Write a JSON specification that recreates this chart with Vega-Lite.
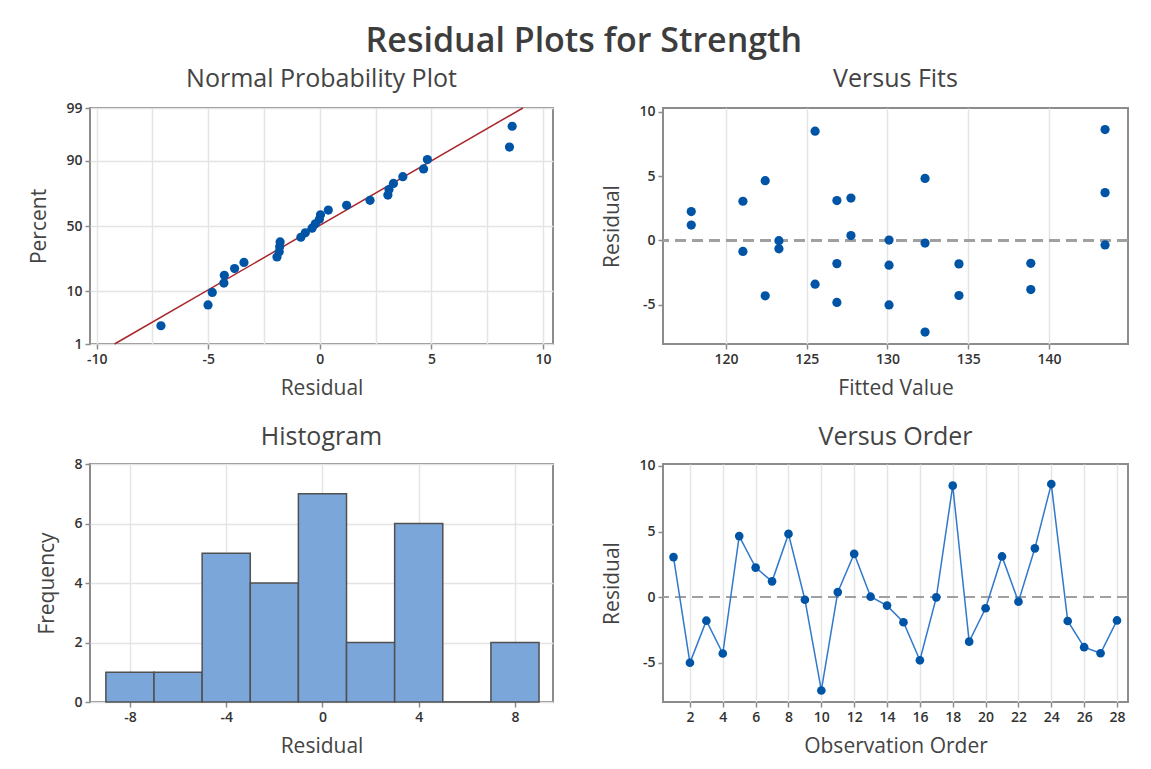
{
  "$schema": "https://vega.github.io/schema/vega-lite/v6.json",
  "background": "white",
  "padding": {"left": 27, "top": 24, "right": 10, "bottom": 10},
  "title": {"text": "Residual Plots for Strength", "fontSize": 34, "font": "Open Sans", "fontWeight": 600, "color": "#3d3d3d", "anchor": "middle", "offset": 7, "dx": 5},
  "datasets": {
    "obs": [
      {"order": 1, "fit": 121.05, "residual": 3.05},
      {"order": 2, "fit": 130.10, "residual": -5.01},
      {"order": 3, "fit": 126.87, "residual": -1.80},
      {"order": 4, "fit": 122.43, "residual": -4.30},
      {"order": 5, "fit": 122.43, "residual": 4.65},
      {"order": 6, "fit": 117.85, "residual": 2.25},
      {"order": 7, "fit": 117.85, "residual": 1.20},
      {"order": 8, "fit": 132.33, "residual": 4.82},
      {"order": 9, "fit": 132.33, "residual": -0.20},
      {"order": 10, "fit": 132.33, "residual": -7.12},
      {"order": 11, "fit": 127.74, "residual": 0.38},
      {"order": 12, "fit": 127.74, "residual": 3.30},
      {"order": 13, "fit": 130.10, "residual": 0.03},
      {"order": 14, "fit": 123.28, "residual": -0.65},
      {"order": 15, "fit": 130.10, "residual": -1.92},
      {"order": 16, "fit": 126.87, "residual": -4.82},
      {"order": 17, "fit": 123.28, "residual": -0.02},
      {"order": 18, "fit": 125.52, "residual": 8.50},
      {"order": 19, "fit": 125.52, "residual": -3.40},
      {"order": 20, "fit": 121.05, "residual": -0.85},
      {"order": 21, "fit": 126.87, "residual": 3.10},
      {"order": 22, "fit": 143.48, "residual": -0.35},
      {"order": 23, "fit": 143.48, "residual": 3.72},
      {"order": 24, "fit": 143.48, "residual": 8.62},
      {"order": 25, "fit": 134.43, "residual": -1.82},
      {"order": 26, "fit": 138.88, "residual": -3.82},
      {"order": 27, "fit": 134.43, "residual": -4.28},
      {"order": 28, "fit": 138.88, "residual": -1.78}
    ],
    "npp": [
      {"residual": -7.12, "z": -1.966},
      {"residual": -5.01, "z": -1.556},
      {"residual": -4.82, "z": -1.310},
      {"residual": -4.30, "z": -1.125},
      {"residual": -4.28, "z": -0.972},
      {"residual": -3.82, "z": -0.839},
      {"residual": -3.40, "z": -0.719},
      {"residual": -1.92, "z": -0.610},
      {"residual": -1.82, "z": -0.506},
      {"residual": -1.80, "z": -0.408},
      {"residual": -1.78, "z": -0.314},
      {"residual": -0.85, "z": -0.222},
      {"residual": -0.65, "z": -0.133},
      {"residual": -0.35, "z": -0.044},
      {"residual": -0.20, "z": 0.044},
      {"residual": -0.02, "z": 0.133},
      {"residual": 0.03, "z": 0.222},
      {"residual": 0.38, "z": 0.314},
      {"residual": 1.20, "z": 0.408},
      {"residual": 2.25, "z": 0.506},
      {"residual": 3.05, "z": 0.610},
      {"residual": 3.10, "z": 0.719},
      {"residual": 3.30, "z": 0.839},
      {"residual": 3.72, "z": 0.972},
      {"residual": 4.65, "z": 1.125},
      {"residual": 4.82, "z": 1.310},
      {"residual": 8.50, "z": 1.556},
      {"residual": 8.62, "z": 1.966}
    ],
    "fitline": [
      {"residual": -9.2, "z": -2.326},
      {"residual": 9.1, "z": 2.326}
    ],
    "hist": [
      {"bin_start": -9, "bin_end": -7, "count": 1},
      {"bin_start": -7, "bin_end": -5, "count": 1},
      {"bin_start": -5, "bin_end": -3, "count": 5},
      {"bin_start": -3, "bin_end": -1, "count": 4},
      {"bin_start": -1, "bin_end": 1, "count": 7},
      {"bin_start": 1, "bin_end": 3, "count": 2},
      {"bin_start": 3, "bin_end": 5, "count": 6},
      {"bin_start": 5, "bin_end": 7, "count": 0},
      {"bin_start": 7, "bin_end": 9, "count": 2}
    ]
  },
  "config": {
    "font": "Open Sans",
    "view": {"stroke": "#8c8c8c", "strokeWidth": 2},
    "axis": {
      "domain": false,
      "gridColor": "#e4e4e4",
      "gridWidth": 1.5,
      "tickColor": "#8c8c8c",
      "tickSize": 5,
      "tickWidth": 1.5,
      "tickCount": 40,
      "format": "d",
      "labelFont": "Open Sans",
      "labelFontSize": 14,
      "labelFontWeight": 600,
      "labelColor": "#333333",
      "labelPadding": 3,
      "labelOverlap": false,
      "labelFlush": false,
      "titleFont": "Open Sans",
      "titleFontSize": 21,
      "titleFontWeight": "normal",
      "titleColor": "#444444"
    },
    "axisX": {"titlePadding": 11, "labelOverlap": false},
    "axisY": {"titlePadding": 16},
    "title": {"font": "Open Sans", "fontSize": 25, "fontWeight": "normal", "color": "#444444", "offset": 9}
  },
  "columns": 2,
  "spacing": {"row": 120, "column": 110},
  "bounds": "flush",
  "concat": [
    {
      "width": 463,
      "height": 236,
      "title": {"text": "Normal Probability Plot", "offset": 9},
      "layer": [
        {
          "data": {"name": "fitline"},
          "mark": {"type": "line", "color": "#a8262c", "strokeWidth": 1.5},
          "encoding": {
            "x": {"field": "residual", "type": "quantitative", "scale": {"domain": [-10.3, 10.45], "nice": false, "zero": false},
              "axis": {"title": "Residual", "values": [-10, -7.5, -5, -2.5, 0, 2.5, 5, 7.5, 10], "tickCount": 40, "labelOverlap": false,
                "labelExpr": "abs(datum.value % 5) < 0.01 ? (datum.value < 0 ? '-' + abs(datum.value) : '' + datum.value) : ''",
                "tickOpacity": {"condition": {"test": "abs(datum.value % 5) < 0.01", "value": 1}, "value": 0}}},
            "y": {"field": "z", "type": "quantitative", "scale": {"domain": [-2.326, 2.326], "nice": false, "zero": false},
              "axis": {"title": "Percent", "values": [-2.326, -1.2816, 0, 1.2816, 2.326],
                "labelExpr": "datum.value < -2 ? '1' : datum.value < -1 ? '10' : datum.value < 1 ? '50' : datum.value < 2 ? '90' : '99'"}}
          }
        },
        {
          "data": {"name": "npp"},
          "mark": {"type": "circle", "size": 85, "color": "#0054a6", "opacity": 1},
          "encoding": {
            "x": {"field": "residual", "type": "quantitative"},
            "y": {"field": "z", "type": "quantitative"}
          }
        }
      ]
    },
    {
      "width": 465,
      "height": 236,
      "title": {"text": "Versus Fits", "offset": 13},
      "layer": [
        {
          "data": {"name": "obs"},
          "mark": {"type": "rule", "color": "#a0a0a0", "strokeWidth": 1.5, "strokeDash": [11, 6]},
          "encoding": {"y": {"datum": 0}}
        },
        {
          "data": {"name": "obs"},
          "mark": {"type": "circle", "size": 85, "color": "#0054a6", "opacity": 1},
          "encoding": {
            "x": {"field": "fit", "type": "quantitative", "scale": {"domain": [116.1, 144.9], "nice": false, "zero": false},
              "axis": {"title": "Fitted Value", "values": [120, 125, 130, 135, 140], "format": "d"}},
            "y": {"field": "residual", "type": "quantitative", "scale": {"domain": [-8.05, 10.3], "nice": false, "zero": false},
              "axis": {"title": "Residual", "values": [-5, 0, 5, 10], "labelExpr": "datum.value < 0 ? '-' + abs(datum.value) : '' + datum.value"}}
          }
        }
      ]
    },
    {
      "width": 463,
      "height": 238,
      "title": {"text": "Histogram", "offset": 7},
      "data": {"name": "hist"},
      "mark": {"type": "rect", "fill": "#7ba6d9", "stroke": "#505050", "strokeWidth": 1.5},
      "encoding": {
        "x": {"field": "bin_start", "type": "quantitative", "scale": {"domain": [-9.66, 9.58], "nice": false, "zero": false},
          "axis": {"title": "Residual", "values": [-8, -4, 0, 4, 8], "labelExpr": "datum.value < 0 ? '-' + abs(datum.value) : '' + datum.value"}},
        "x2": {"field": "bin_end"},
        "y": {"field": "count", "type": "quantitative", "scale": {"domain": [0, 8], "nice": false},
          "axis": {"title": "Frequency", "values": [0, 2, 4, 6, 8], "format": "d", "labelExpr": "'' + datum.value"}},
        "y2": {"datum": 0}
      }
    },
    {
      "width": 465,
      "height": 238,
      "title": {"text": "Versus Order", "offset": 9},
      "layer": [
        {
          "data": {"name": "obs"},
          "mark": {"type": "rule", "color": "#a0a0a0", "strokeWidth": 1.5, "strokeDash": [11, 6]},
          "encoding": {"y": {"datum": 0}}
        },
        {
          "data": {"name": "obs"},
          "mark": {"type": "line", "color": "#3079cc", "strokeWidth": 1.5},
          "encoding": {
            "x": {"field": "order", "type": "quantitative", "scale": {"domain": [0.36, 28.67], "nice": false, "zero": false},
              "axis": {"title": "Observation Order", "values": [2, 4, 6, 8, 10, 12, 14, 16, 18, 20, 22, 24, 26, 28], "tickCount": 40, "labelOverlap": false, "format": "d"}},
            "y": {"field": "residual", "type": "quantitative", "scale": {"domain": [-8.0, 10.15], "nice": false, "zero": false},
              "axis": {"title": "Residual", "values": [-5, 0, 5, 10], "labelExpr": "datum.value < 0 ? '-' + abs(datum.value) : '' + datum.value"}}
          }
        },
        {
          "data": {"name": "obs"},
          "mark": {"type": "circle", "size": 75, "color": "#0054a6", "opacity": 1},
          "encoding": {
            "x": {"field": "order", "type": "quantitative"},
            "y": {"field": "residual", "type": "quantitative"}
          }
        }
      ]
    }
  ]
}
